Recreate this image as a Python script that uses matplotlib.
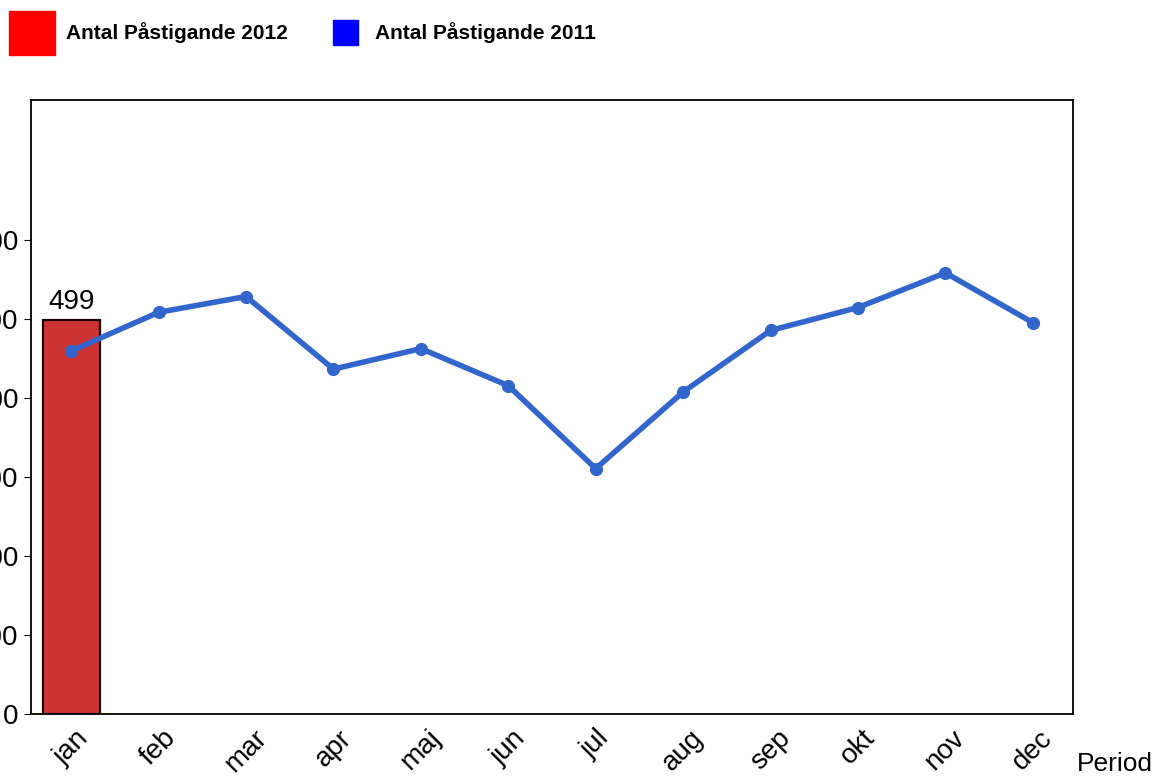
import matplotlib.pyplot as plt
from matplotlib.patches import Rectangle

plt.rcParams['font.family'] = ['Liberation Sans', 'DejaVu Sans']

months = ["jan", "feb", "mar", "apr", "maj", "jun", "jul", "aug", "sep", "okt", "nov", "dec"]
pastigande_2012 = [499]
pastigande_2011 = [460, 509, 529, 437, 463, 416, 311, 408, 486, 515, 559, 496]
y_ticks = [0, 100, 200, 300, 400, 500, 600]

fig = plt.figure(figsize=(11.56, 7.76), dpi=100)
ax = fig.add_axes([31 / 1156, 1 - 714 / 776, (1073 - 31) / 1156, (714 - 100) / 776])

x_all = list(range(len(months)))
x_2012 = x_all[:len(pastigande_2012)]

ax.bar(x_2012, pastigande_2012, width=0.65, color="#CC3333",
       edgecolor="#1a0000", linewidth=1.6, zorder=2)
for xb, v in zip(x_2012, pastigande_2012):
    ax.text(xb, v + 6, str(v), ha="center", va="bottom", fontsize=20)

ax.plot(x_all, pastigande_2011, color="#3366CC", linewidth=4,
        marker="o", markersize=8.5, zorder=3)

ax.set_xlim(-0.46, len(months) - 1 + 0.46)
ax.set_ylim(0, 778)
ax.set_yticks(y_ticks)
ax.set_yticklabels([str(t) for t in y_ticks], fontsize=20)
ax.set_xticks(x_all)
ax.set_xticklabels(months, rotation=45, ha="center", va="top", fontsize=20)
ax.tick_params(axis="x", length=0, pad=8)
ax.tick_params(axis="y", length=5, pad=4)
for sp in ax.spines.values():
    sp.set_linewidth(1.3)

fig.text(1077 / 1156, 1 - 764 / 776, "Period", fontsize=19, va="center", ha="left")

# legend drawn by hand
fig.patches.append(Rectangle((9 / 1156, 1 - 55 / 776), 46 / 1156, 44 / 776,
                             transform=fig.transFigure, color="#FF0000"))
fig.text(66 / 1156, 1 - 33 / 776, "Antal Påstigande 2012", fontsize=15,
         fontweight="bold", va="center", ha="left")
fig.patches.append(Rectangle((333 / 1156, 1 - 45 / 776), 25 / 1156, 25 / 776,
                             transform=fig.transFigure, color="#0000FF"))
fig.text(375 / 1156, 1 - 33 / 776, "Antal Påstigande 2011", fontsize=15,
         fontweight="bold", va="center", ha="left")

fig.savefig("out.png", dpi=100)
